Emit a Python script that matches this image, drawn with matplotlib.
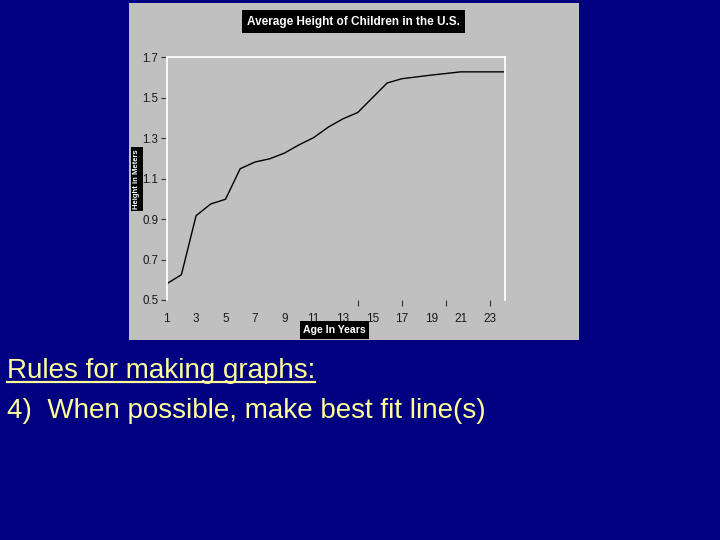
import matplotlib
matplotlib.use("Agg")
import matplotlib.pyplot as plt
from matplotlib.patches import Rectangle
from matplotlib.lines import Line2D

ages = list(range(1, 25))
heights = [0.58, 0.625, 0.917, 0.975, 0.998, 1.149, 1.182, 1.198, 1.226, 1.267,
           1.303, 1.355, 1.396, 1.427, 1.50, 1.573, 1.594, 1.603, 1.612, 1.620,
           1.628, 1.628, 1.628, 1.628]
xtick_labels = [1, 3, 5, 7, 9, 11, 13, 15, 17, 19, 21, 23]
xtick_marks = [14, 17, 20, 23]
yticks = [0.5, 0.7, 0.9, 1.1, 1.3, 1.5, 1.7]

W, H = 720, 540
navy = "#000080"
gray = "#C0C0C0"
yellow = "#FFFF99"

plt.rcParams['font.family'] = ['Liberation Sans', 'DejaVu Sans']

fig = plt.figure(figsize=(7.2, 5.4), dpi=100, facecolor=navy)

def fx(px):
    return px / W

def fy(py):
    return 1 - py / H

# gray chart panel
fig.patches.append(Rectangle((fx(129), fy(340)), fx(579) - fx(129), fy(3) - fy(340),
                             transform=fig.transFigure, facecolor=gray, edgecolor='none', zorder=-5))

ax = fig.add_axes([fx(166.7), fy(300), fx(504.7) - fx(166.7), fy(57.3) - fy(300)])
ax.set_zorder(2)
ax.set_facecolor('none')
ax.plot(ages, heights, color='black', lw=1.0)
ax.set_xlim(1, 24)
ax.set_ylim(0.5, 1.7)
for s in ['left', 'right', 'top']:
    ax.spines[s].set_color('white')
    ax.spines[s].set_linewidth(1.3)
ax.spines['bottom'].set_visible(False)

ax.set_yticks(yticks)
ax.set_yticklabels([f"{v:.1f}" for v in yticks])
ax.tick_params(axis='y', length=4, width=0.8, color='#333333', pad=2,
               labelsize=8.3, labelcolor='#1a1a1a')
ax.xaxis.remove_overlapping_locs = False
ax.set_xticks(xtick_labels)
ax.set_xticklabels([str(v) for v in xtick_labels])
ax.tick_params(axis='x', which='major', length=0, pad=9, labelsize=8.5, labelcolor='#1a1a1a')
ax.set_xticks(xtick_marks, minor=True)
ax.tick_params(axis='x', which='minor', length=4, width=0.8, color='#333333', direction='out')

fig.text(fx(353.5), fy(21.5), "Average Height of Children in the U.S.", color='white',
         fontsize=8.5, fontweight='bold', ha='center', va='center', zorder=5,
         bbox=dict(facecolor='black', edgecolor='none', pad=4))
fig.text(fx(334.5), fy(330), "Age In Years", color='white',
         fontsize=7.6, fontweight='bold', ha='center', va='center', zorder=5,
         bbox=dict(facecolor='black', edgecolor='none', pad=2.6))
fig.text(fx(137), fy(179), "Height in Meters", color='white', rotation=90,
         fontsize=5.5, fontweight='bold', ha='center', va='center', zorder=5,
         bbox=dict(facecolor='black', edgecolor='none', pad=1.5))

t1 = fig.text(fx(7), fy(378.5), "Rules for making graphs:", color=yellow,
              fontsize=20, ha='left', va='baseline')
fig.text(fx(7), fy(418), "4)  When possible, make best fit line(s)", color=yellow,
         fontsize=20, ha='left', va='baseline')

fig.canvas.draw()
bb = t1.get_window_extent()
x0, x1 = bb.x0 / W, bb.x1 / W
uy = fy(381.5)
fig.lines.append(Line2D([x0, x1], [uy, uy], transform=fig.transFigure,
                        color=yellow, lw=1.6))

fig.savefig("out.png", dpi=100, facecolor=navy)
